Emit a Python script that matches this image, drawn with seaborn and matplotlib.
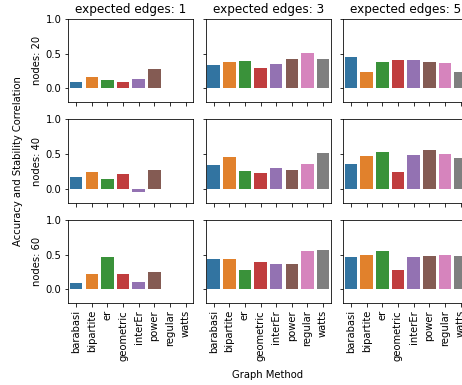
import numpy as np
import pandas as pd
from matplotlib import pyplot as plt
import seaborn as sns

methods = ['barabasi', 'bipartite', 'er', 'geometric', 'interEr', 'power', 'regular', 'watts']
edges = [1, 3, 5]
nodes = [20, 40, 60]

nan = np.nan
# rows: nodes, columns: expected edges
n20_e1 = [0.09, 0.16, 0.12, 0.09, 0.14, 0.28, nan, nan]
n20_e3 = [0.33, 0.375, 0.39, 0.295, 0.345, 0.42, 0.51, 0.42]
n20_e5 = [0.445, 0.235, 0.375, 0.41, 0.41, 0.375, 0.36, 0.235]
n40_e1 = [0.17, 0.24, 0.14, 0.21, -0.05, 0.265, nan, nan]
n40_e3 = [0.345, 0.46, 0.255, 0.23, 0.295, 0.265, 0.355, 0.51]
n40_e5 = [0.355, 0.47, 0.535, 0.24, 0.485, 0.56, 0.495, 0.44]
n60_e1 = [0.09, 0.22, 0.465, 0.22, 0.105, 0.255, nan, nan]
n60_e3 = [0.44, 0.44, 0.27, 0.395, 0.36, 0.36, 0.555, 0.57]
n60_e5 = [0.465, 0.5, 0.555, 0.27, 0.465, 0.475, 0.49, 0.475]

grid = {
    (20, 1): n20_e1, (20, 3): n20_e3, (20, 5): n20_e5,
    (40, 1): n40_e1, (40, 3): n40_e3, (40, 5): n40_e5,
    (60, 1): n60_e1, (60, 3): n60_e3, (60, 5): n60_e5,
}

rows = []
for (n, e), vals in grid.items():
    for m, v in zip(methods, vals):
        rows.append({'nodes': n, 'edges': e, 'method': m, 'corr': v})
data = pd.DataFrame(rows).dropna()

plt.rcParams['font.family'] = 'DejaVu Sans'
plt.rcParams['font.size'] = 10

fig, axes = plt.subplots(3, 3, figsize=(462 / 72, 385 / 72), dpi=72, sharex=True, sharey=True)
fig.subplots_adjust(left=0.148, right=1.0137, top=0.9506, bottom=0.213, wspace=0.099, hspace=0.21)

for i, n in enumerate(nodes):
    for j, e in enumerate(edges):
        ax = axes[i, j]
        sub = data[(data['nodes'] == n) & (data['edges'] == e)]
        sns.barplot(data=sub, x='method', y='corr', hue='method', order=methods,
                    hue_order=methods, palette='tab10', legend=False, ax=ax)
        ax.set_xlabel('')
        ax.set_ylabel(f'nodes: {n}' if j == 0 else '')
        if i == 0:
            ax.set_title(f'expected edges: {e}')
        ax.set_ylim(-0.2, 1.0)
        ax.set_yticks([0.0, 0.5, 1.0])
        ax.tick_params(axis='x', labelrotation=90)

fig.text(18 / 462, 1 - 161 / 385, 'Accuracy and Stability Correlation', rotation=90,
         ha='center', va='center')
fig.text(268 / 462, 1 - 375 / 385, 'Graph Method', ha='center', va='center')

fig.savefig('out.png', dpi=72)
